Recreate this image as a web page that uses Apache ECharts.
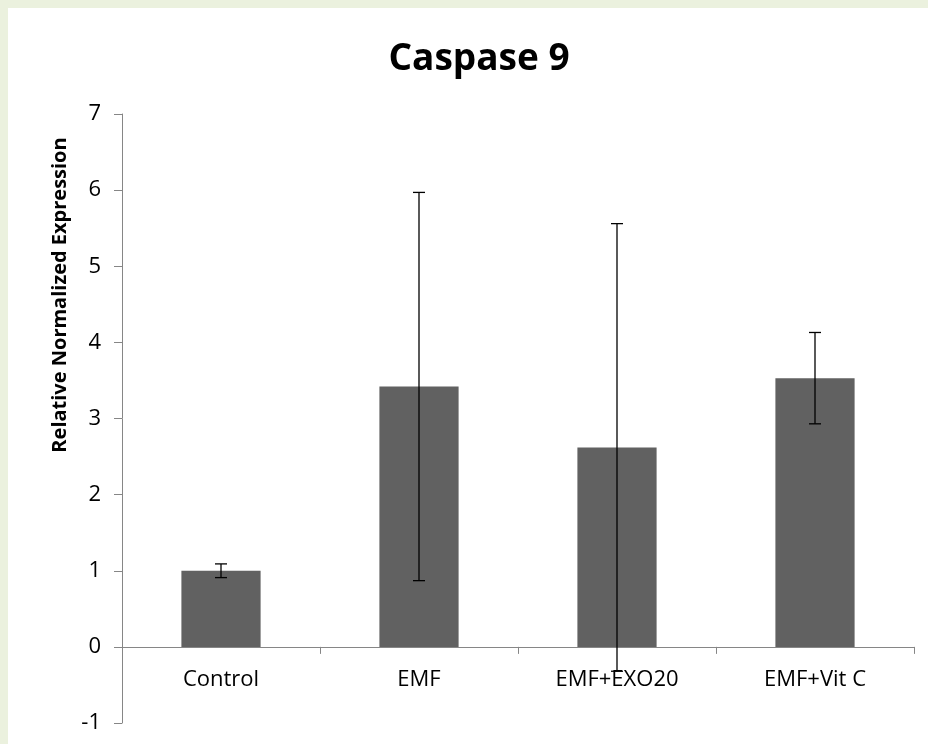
<!DOCTYPE html>
<html>
<head>
<meta charset="utf-8">
<script src="https://cdn.jsdelivr.net/npm/echarts@6/dist/echarts.min.js"></script>
<style>
  html, body { margin: 0; padding: 0; }
  #frame { position: absolute; left: 0; top: 0; width: 928px; height: 744px; background: #EBF1DE; }
  #panel { position: absolute; left: 8px; top: 8px; width: 920px; height: 736px; background: #FFFFFF; }
  #chart { position: absolute; left: 0; top: 0; width: 928px; height: 744px; }
</style>
</head>
<body>
<div id="frame"><div id="panel"></div></div>
<div id="chart"></div>
<script>
const chartTitle = 'Caspase 9';
const yAxisTitle = 'Relative Normalized Expression';
const categories = ['Control', 'EMF', 'EMF+EXO20', 'EMF+Vit C'];
const means = [1.00, 3.42, 2.62, 3.53];
const errors = [0.09, 2.55, 2.94, 0.60];
const yMin = -1, yMax = 7, yStep = 1;

const FONT = '"Open Sans", "Liberation Sans", sans-serif';
const GRID_TOP = 114, GRID_BOTTOM = 21;
const chart = echarts.init(document.getElementById('chart'), null, { renderer: 'canvas' });

const plotH = 744 - GRID_TOP - GRID_BOTTOM;
const zeroOffset = -plotH * (0 - yMin) / (yMax - yMin);

const errData = categories.map((c, i) => [i, means[i] - errors[i], means[i] + errors[i]]);

chart.setOption({
  backgroundColor: 'transparent',
  animation: false,
  title: {
    text: chartTitle,
    left: 474,
    textAlign: 'center',
    top: 36,
    textStyle: { fontFamily: FONT, fontWeight: 'bold', fontSize: 37, color: '#000' }
  },
  grid: { left: 122, right: 14, top: GRID_TOP, bottom: GRID_BOTTOM, containLabel: false, outerBoundsMode: 'none' },
  xAxis: {
    type: 'category',
    data: categories,
    position: 'bottom',
    offset: zeroOffset,
    axisLine: { onZero: false, lineStyle: { color: '#868686', width: 1 } },
    axisTick: { show: true, length: 7, alignWithLabel: false, lineStyle: { color: '#868686' } },
    axisLabel: { margin: 22, color: '#000', fontFamily: FONT, fontSize: 22 },
    splitLine: { show: false }
  },
  yAxis: {
    type: 'value',
    min: yMin, max: yMax, interval: yStep,
    axisLine: { show: true, lineStyle: { color: '#868686', width: 1 } },
    axisTick: { show: true, length: 8, lineStyle: { color: '#868686' } },
    axisLabel: { margin: 21, color: '#000', fontFamily: FONT, fontSize: 22 },
    splitLine: { show: false }
  },
  graphic: [{
    type: 'text',
    x: 60, y: 295,
    rotation: Math.PI / 2,
    style: {
      text: yAxisTitle,
      fill: '#000',
      font: 'bold 20px ' + FONT,
      textAlign: 'center',
      textVerticalAlign: 'middle'
    }
  }],
  series: [
    {
      type: 'bar',
      data: means,
      barWidth: '40%',
      itemStyle: { color: '#616161' },
      z: 2
    },
    {
      type: 'custom',
      data: errData,
      z: 5,
      renderItem: function (params, api) {
        const i = api.value(0);
        const lo = api.coord([i, api.value(1)]);
        const hi = api.coord([i, api.value(2)]);
        const hw = 6;
        const st = { stroke: '#000', lineWidth: 1.3 };
        return {
          type: 'group',
          children: [
            { type: 'line', shape: { x1: hi[0], y1: hi[1], x2: lo[0], y2: lo[1] }, style: st },
            { type: 'line', shape: { x1: hi[0] - hw, y1: hi[1], x2: hi[0] + hw, y2: hi[1] }, style: st },
            { type: 'line', shape: { x1: lo[0] - hw, y1: lo[1], x2: lo[0] + hw, y2: lo[1] }, style: st }
          ]
        };
      }
    }
  ]
});
</script>
</body>
</html>
